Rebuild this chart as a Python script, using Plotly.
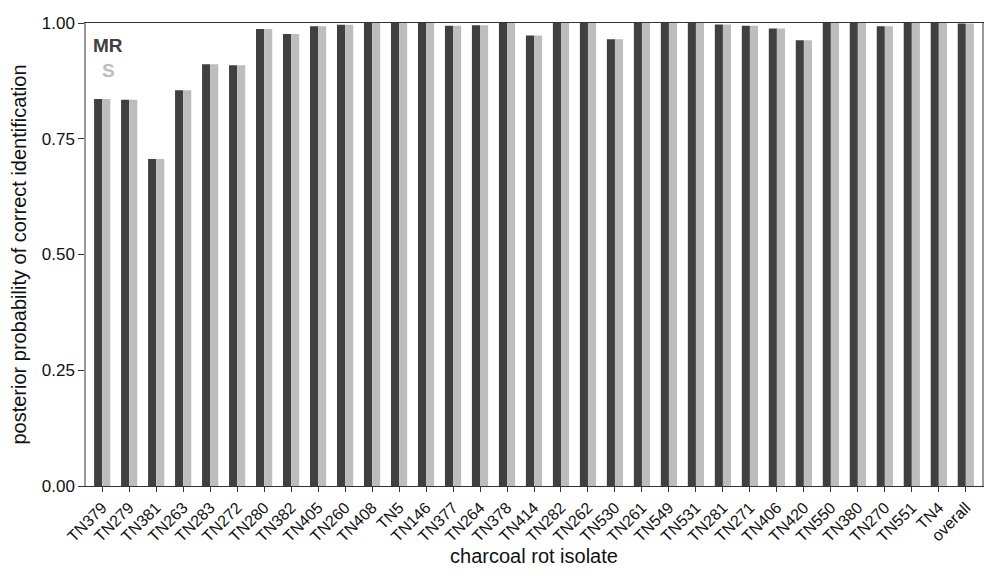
import plotly.graph_objects as go

# isolates in plotted order
isolates = ["TN379", "TN279", "TN381", "TN263", "TN283", "TN272", "TN280", "TN382",
            "TN405", "TN260", "TN408", "TN5", "TN146", "TN377", "TN264", "TN378",
            "TN414", "TN282", "TN262", "TN530", "TN261", "TN549", "TN531", "TN281",
            "TN271", "TN406", "TN420", "TN550", "TN380", "TN270", "TN551", "TN4", "overall"]

# posterior probability of correct identification
mr = [0.836, 0.834, 0.706, 0.855, 0.911, 0.909, 0.987, 0.976,
      0.993, 0.996, 1.000, 1.000, 1.000, 0.994, 0.995, 1.000,
      0.973, 1.000, 1.000, 0.965, 1.000, 1.000, 1.000, 0.997,
      0.994, 0.988, 0.963, 1.000, 1.000, 0.993, 1.000, 1.000, 0.999]
s = [0.836, 0.834, 0.706, 0.855, 0.911, 0.909, 0.987, 0.976,
     0.993, 0.996, 1.000, 1.000, 1.000, 0.994, 0.995, 1.000,
     0.973, 1.000, 1.000, 0.965, 1.000, 1.000, 1.000, 0.997,
     0.994, 0.988, 0.963, 1.000, 1.000, 0.993, 1.000, 1.000, 0.999]

y_ticks = [0, 0.25, 0.5, 0.75, 1.0]

dark = "#404040"
light = "#bdbdbd"
font = "Liberation Sans, Arial, sans-serif"

# page body has an 8px margin, so the figure is a bit smaller than the window
W, H = 992, 571
L, R, T, B = 78, 18, 15, 93

fig = go.Figure()
fig.add_trace(go.Bar(x=isolates, y=mr, name="MR", marker_color=dark, marker_line_width=0))
fig.add_trace(go.Bar(x=isolates, y=s, name="S", marker_color=light, marker_line_width=0))

fig.update_layout(
    width=W, height=H,
    barmode="group", bargap=0.4, bargroupgap=0,
    plot_bgcolor="white", paper_bgcolor="white",
    showlegend=False,
    margin=dict(l=L, r=R, t=T, b=B, autoexpand=False),
    font=dict(family=font, color="#111111"),
)

fig.update_xaxes(
    range=[-0.6, len(isolates) - 0.4],
    tickangle=-45, tickfont=dict(size=16, color="#111111"),
    ticks="outside", ticklen=5, tickcolor="#333333",
    showline=True, linecolor="#333333", linewidth=1.2, mirror=True,
    showgrid=False,
    title=dict(text="charcoal rot isolate", font=dict(size=20), standoff=1),
)

fig.update_yaxes(
    range=[0, 1],
    tickvals=y_ticks, ticktext=[f"{v:.2f}" for v in y_ticks],
    tickfont=dict(size=17, color="#111111"),
    ticks="outside", ticklen=6, tickcolor="#333333",
    showline=True, linecolor="#999999", linewidth=1.5, mirror=True,
    showgrid=False, zeroline=False,
    title=dict(text="posterior probability of correct identification", font=dict(size=20), standoff=11),
)

# label-style legend in the top-left corner (window pixel positions)
pw, ph = W - L - R, H - T - B
for label, color, px, py in [("MR", dark, 108, 46), ("S", light, 108, 70)]:
    fig.add_annotation(x=(px - 8 - L) / pw, y=1 - (py - 8 - T) / ph, xref="paper", yref="paper",
                       xanchor="center", yanchor="middle",
                       text=f"<b>{label}</b>", showarrow=False,
                       font=dict(size=19, color=color))

fig.write_html("out.html")
